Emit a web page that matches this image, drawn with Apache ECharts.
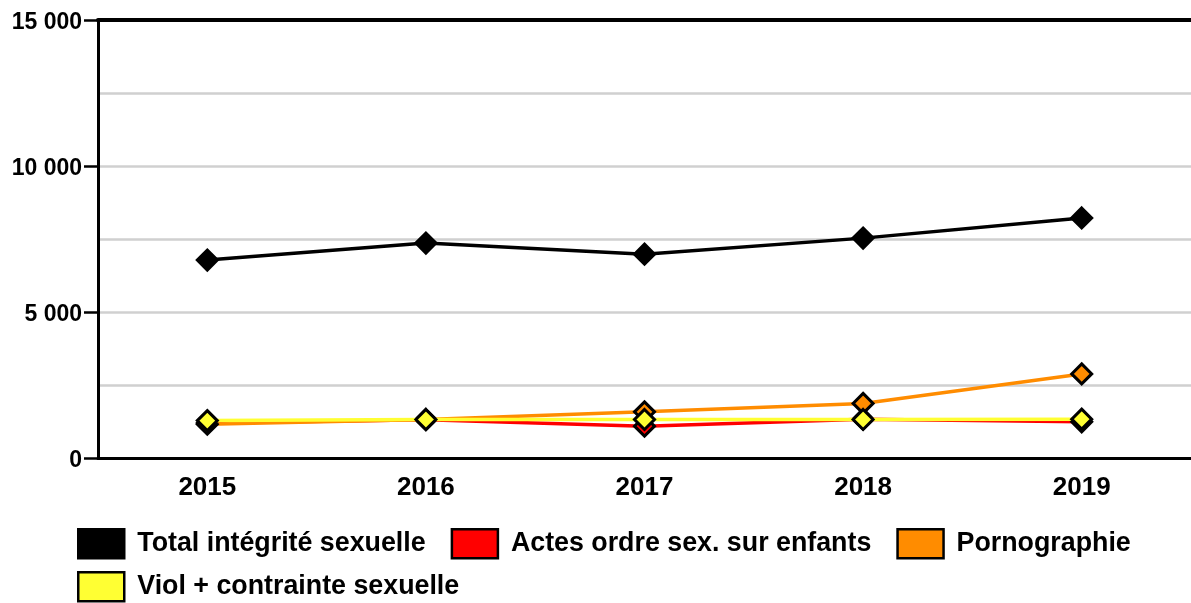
<!DOCTYPE html>
<html>
<head>
<meta charset="utf-8">
<script src="https://cdn.jsdelivr.net/npm/echarts@6/dist/echarts.min.js"></script>
<style>
  html, body { margin: 0; padding: 0; background: #fff; }
  #chart { width: 1191px; height: 603px; }
</style>
</head>
<body>
<div id="chart"></div>
<script>
// Infractions contre l'intégrité sexuelle, 2015–2019
const years = ['2015', '2016', '2017', '2018', '2019'];
const total = [6780, 7360, 6980, 7530, 8220];
const actesEnfants = [1200, 1310, 1090, 1330, 1240];
const pornographie = [1160, 1320, 1580, 1870, 2880];
const viol = [1280, 1320, 1320, 1320, 1330];

const seriesNames = [
  'Total intégrité sexuelle',
  'Actes ordre sex. sur enfants',
  'Pornographie',
  'Viol + contrainte sexuelle'
];
const seriesColors = ['#000000', '#ff0000', '#ff8c00', '#ffff33'];
const seriesData = [total, actesEnfants, pornographie, viol];

const FONT = '"Liberation Sans", Arial, sans-serif';

// Thousands separated by a space: 15 000
function fmt(v) {
  return '{v|' + String(v).replace(/\B(?=(\d{3})+(?!\d))/g, ' ') + '}';
}

const chart = echarts.init(document.getElementById('chart'), null, { renderer: 'canvas' });

const legendCommon = {
  orient: 'horizontal',
  icon: 'rect',
  itemWidth: 46,
  itemHeight: 29,
  itemGap: 25,
  itemStyle: { borderColor: '#000', borderWidth: 2.5 },
  textStyle: { fontFamily: FONT, fontWeight: 'bold', fontSize: 26.8, color: '#000', padding: [0, 0, 0, 8] },
  padding: 0
};

chart.setOption({
  animation: false,
  grid: { left: 98, right: 0, top: 20, bottom: 145, containLabel: false },
  legend: [
    Object.assign({}, legendCommon, { left: 77, top: 528, data: seriesNames.slice(0, 3) }),
    Object.assign({}, legendCommon, { left: 77, top: 571, data: seriesNames.slice(3) })
  ],
  xAxis: [
    {
      type: 'category',
      data: years,
      boundaryGap: true,
      axisLine: { lineStyle: { color: '#000', width: 3 } },
      axisTick: { show: false },
      axisLabel: { fontFamily: FONT, fontWeight: 'bold', fontSize: 26, color: '#000', margin: 17 },
      splitLine: { show: false }
    },
    {
      type: 'category',
      data: years,
      position: 'top',
      boundaryGap: true,
      axisLine: { lineStyle: { color: '#000', width: 4 } },
      axisTick: { show: false },
      axisLabel: { show: false },
      splitLine: { show: false }
    }
  ],
  yAxis: {
    type: 'value',
    min: 0,
    max: 15000,
    interval: 5000,
    axisLine: { show: true, lineStyle: { color: '#000', width: 3 } },
    axisTick: { show: true, length: 14, lineStyle: { color: '#000', width: 2.5 } },
    axisLabel: {
      color: '#000', margin: 16,
      formatter: fmt,
      rich: {
        v: { fontFamily: FONT, fontWeight: 'bold', fontSize: 23, color: '#000', padding: [6, 0, 0, 0] }
      }
    },
    splitLine: { show: true, lineStyle: { color: '#d0d0d0', width: 2.5 } },
    minorTick: { show: false, splitNumber: 2 },
    minorSplitLine: { show: true, lineStyle: { color: '#d0d0d0', width: 2.5 } }
  },
  series: seriesNames.map((name, i) => ({
    name: name,
    type: 'line',
    data: seriesData[i],
    xAxisIndex: 0,
    symbol: 'diamond',
    symbolSize: 20,
    showSymbol: true,
    lineStyle: { color: seriesColors[i], width: 3.5 },
    itemStyle: { color: seriesColors[i], borderColor: '#000', borderWidth: 3 },
    z: 2 + i
  }))
});
</script>
</body>
</html>
